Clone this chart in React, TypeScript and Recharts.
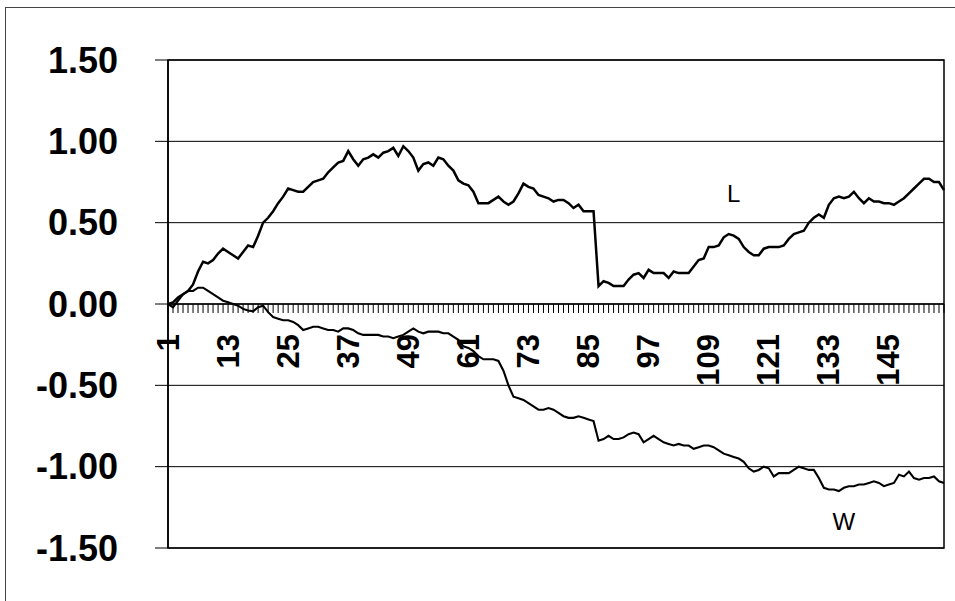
import {
    LineChart,
    Line,
    XAxis,
    YAxis,
    CartesianGrid,
    ReferenceLine,
    ReferenceArea,
    ReferenceDot,
} from 'recharts';

// series, one value per period (1..156)
const L_VALUES = [
    0.0, 0.01, 0.04, 0.06, 0.08, 0.12, 0.2, 0.26, 0.25, 0.27,
    0.31, 0.34, 0.32, 0.3, 0.28, 0.32, 0.36, 0.35, 0.42, 0.5,
    0.53, 0.57, 0.62, 0.66, 0.71, 0.7, 0.69, 0.69, 0.72, 0.75,
    0.76, 0.77, 0.81, 0.84, 0.87, 0.88, 0.94, 0.89, 0.85, 0.89,
    0.9, 0.92, 0.9, 0.93, 0.94, 0.96, 0.91, 0.97, 0.94, 0.9,
    0.82, 0.86, 0.87, 0.85, 0.9, 0.89, 0.85, 0.82, 0.76, 0.74,
    0.73, 0.69, 0.62, 0.62, 0.62, 0.64, 0.66, 0.63, 0.61, 0.63,
    0.68, 0.74, 0.72, 0.71, 0.67, 0.66, 0.65, 0.63, 0.64, 0.64,
    0.62, 0.59, 0.61, 0.57, 0.57, 0.57, 0.11, 0.14, 0.13, 0.11,
    0.11, 0.11, 0.15, 0.18, 0.19, 0.16, 0.21, 0.19, 0.19, 0.19,
    0.16, 0.2, 0.19, 0.19, 0.19, 0.23, 0.27, 0.28, 0.35, 0.35,
    0.36, 0.41, 0.43, 0.42, 0.4, 0.35, 0.32, 0.3, 0.3, 0.34,
    0.35, 0.35, 0.35, 0.36, 0.4, 0.43, 0.44, 0.45, 0.5, 0.53,
    0.55, 0.53, 0.61, 0.65, 0.66, 0.65, 0.66, 0.69, 0.65, 0.62,
    0.65, 0.63, 0.63, 0.62, 0.62, 0.61, 0.63, 0.65, 0.68, 0.71,
    0.74, 0.77, 0.77, 0.75, 0.75, 0.7,
];

const W_VALUES = [
    0.0, -0.02, 0.02, 0.06, 0.08, 0.08, 0.1, 0.1, 0.08, 0.06,
    0.04, 0.02, 0.01, 0.0, -0.01, -0.03, -0.04, -0.045, -0.02, -0.01,
    -0.05, -0.08, -0.09, -0.1, -0.1, -0.11, -0.13, -0.16, -0.15, -0.14,
    -0.14, -0.15, -0.16, -0.16, -0.17, -0.15, -0.15, -0.16, -0.18, -0.19,
    -0.19, -0.19, -0.19, -0.2, -0.2, -0.21, -0.2, -0.19, -0.17, -0.15,
    -0.17, -0.18, -0.17, -0.17, -0.17, -0.18, -0.18, -0.2, -0.22, -0.26,
    -0.27, -0.29, -0.32, -0.34, -0.34, -0.34, -0.35, -0.41, -0.5, -0.57,
    -0.58, -0.59, -0.61, -0.63, -0.65, -0.65, -0.64, -0.65, -0.67, -0.69,
    -0.7, -0.7, -0.69, -0.7, -0.71, -0.72, -0.84, -0.83, -0.81, -0.83,
    -0.83, -0.82, -0.8, -0.79, -0.8, -0.85, -0.83, -0.81, -0.83, -0.85,
    -0.86, -0.87, -0.86, -0.87, -0.87, -0.89, -0.88, -0.87, -0.87, -0.88,
    -0.9, -0.92, -0.93, -0.94, -0.95, -0.97, -1.01, -1.03, -1.02, -1.0,
    -1.01, -1.06, -1.04, -1.04, -1.04, -1.02, -1.0, -1.01, -1.02, -1.02,
    -1.07, -1.13, -1.14, -1.14, -1.15, -1.13, -1.12, -1.12, -1.11, -1.11,
    -1.1, -1.09, -1.1, -1.12, -1.11, -1.1, -1.05, -1.06, -1.03, -1.07,
    -1.08, -1.07, -1.07, -1.06, -1.09, -1.1,
];

const Y_TICKS = [-1.5, -1, -0.5, 0, 0.5, 1, 1.5];
const Y_MIN = -1.5;
const Y_MAX = 1.5;
const LABEL_EVERY = 12;

// series name annotations (category, value)
const L_NOTE = { t: 114, v: 0.68, text: 'L' };
const W_NOTE = { t: 136, v: -1.34, text: 'W' };

const WIDTH = 955;
const HEIGHT = 601;
const MARGIN = { top: 60, right: 11, bottom: 52, left: 0 };
const FONT = '"Liberation Sans", Arial, sans-serif';

const data = L_VALUES.map((l, i) => ({ t: i + 1, L: l, W: W_VALUES[i] }));

// x axis sits on y = 0, so each tick works out where zero is from the plot bottom
const CategoryTick = (props: any) => {
    const { x, y, index, payload } = props;
    const plotTop = MARGIN.top;
    const zeroY = y - ((0 - Y_MIN) / (Y_MAX - Y_MIN)) * (y - plotTop);
    const showLabel = index % LABEL_EVERY === 0;
    return (
        <g>
            <line x1={x} y1={zeroY} x2={x} y2={zeroY + 9} stroke="#000" strokeWidth={1} />
            {showLabel && (
                <text
                    x={0}
                    y={0}
                    transform={`translate(${x}, ${zeroY + 30}) rotate(-90)`}
                    textAnchor="end"
                    dominantBaseline="central"
                    fontFamily={FONT}
                    fontWeight="bold"
                    fontSize={31}
                    fill="#000"
                >
                    {payload.value}
                </text>
            )}
        </g>
    );
};

const NoteShape = (text: string) => (p: any) => (
    <text
        x={p.cx}
        y={p.cy}
        textAnchor="middle"
        dominantBaseline="central"
        fontFamily={FONT}
        fontSize={24}
        fill="#000"
    >
        {text}
    </text>
);

export default function App() {
    return (
        <div style={{ position: 'absolute', left: 0, top: 0, width: WIDTH, height: HEIGHT, background: '#fff', overflow: 'hidden' }}>
            <div
                style={{
                    position: 'absolute',
                    left: 5,
                    top: 7,
                    width: WIDTH,
                    height: HEIGHT,
                    border: '1px solid #444',
                    pointerEvents: 'none',
                }}
            />
            <LineChart width={WIDTH} height={HEIGHT} data={data} margin={MARGIN}>
                <CartesianGrid horizontal vertical={false} stroke="#000" strokeWidth={1} />
                <XAxis
                    dataKey="t"
                    interval={0}
                    height={1}
                    axisLine={false}
                    tickLine={false}
                    tickSize={0}
                    tickMargin={0}
                    tick={<CategoryTick />}
                />
                <YAxis
                    type="number"
                    domain={[Y_MIN, Y_MAX]}
                    ticks={Y_TICKS}
                    width={168}
                    tickSize={13}
                    tickMargin={37}
                    axisLine={{ stroke: '#000', strokeWidth: 1.5 }}
                    tickLine={{ stroke: '#000', strokeWidth: 1 }}
                    tickFormatter={(v: number) => v.toFixed(2)}
                    tick={{ fontFamily: FONT, fontWeight: 'bold', fontSize: 36, fill: '#000' }}
                />
                <ReferenceArea x1={1} x2={L_VALUES.length} y1={Y_MIN} y2={Y_MAX} fill="none" stroke="#000" strokeWidth={1.5} />
                <ReferenceLine y={0} stroke="#000" strokeWidth={1.5} />
                <Line type="linear" dataKey="L" stroke="#000" strokeWidth={2.5} dot={false} isAnimationActive={false} />
                <Line type="linear" dataKey="W" stroke="#000" strokeWidth={2.1} dot={false} isAnimationActive={false} />
                <ReferenceDot x={L_NOTE.t} y={L_NOTE.v} r={0} shape={NoteShape(L_NOTE.text)} />
                <ReferenceDot x={W_NOTE.t} y={W_NOTE.v} r={0} shape={NoteShape(W_NOTE.text)} />
            </LineChart>
        </div>
    );
}
